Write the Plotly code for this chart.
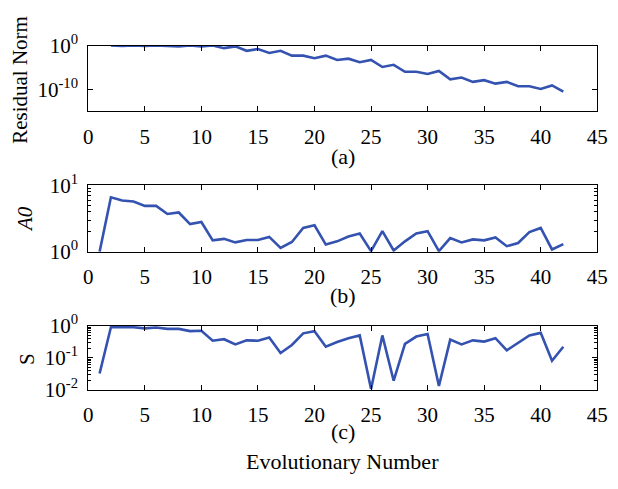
import plotly.graph_objects as go

# ---- data ----
x_res = list(range(2, 43))
log_res = [0, -0.1, 0, -0.1, 0, -0.05, -0.2, 0, -0.2, 0,
           -0.6, -0.2, -1.2, -0.8, -1.7, -1.2, -2.3, -2.3, -2.9, -2.3,
           -3.3, -3.0, -3.8, -3.3, -4.9, -4.4, -6.0, -6.0, -6.5, -5.8,
           -7.7, -7.3, -8.3, -7.9, -8.7, -8.3, -9.3, -9.3, -9.9, -9.1,
           -10.5]
residual = [10 ** v for v in log_res]

x_gen = list(range(1, 43))
a0 = [1.0, 6.6, 5.9, 5.7, 4.9, 4.9, 3.7, 3.9, 2.6, 2.8,
      1.48, 1.56, 1.38, 1.5, 1.5, 1.67, 1.14, 1.4, 2.28, 2.5,
      1.28, 1.43, 1.69, 1.88, 1.02, 2.04, 1.04, 1.43, 1.88, 2.04,
      1.02, 1.6, 1.38, 1.53, 1.48, 1.64, 1.21, 1.35, 1.97, 2.28,
      1.08, 1.3]
s_vals = [0.032, 0.9, 0.9, 0.9, 0.83, 0.88, 0.8, 0.8, 0.68, 0.7,
          0.34, 0.38, 0.26, 0.35, 0.34, 0.43, 0.14, 0.25, 0.58, 0.68,
          0.22, 0.31, 0.41, 0.5, 0.0105, 0.5, 0.019, 0.27, 0.46, 0.55,
          0.013, 0.37, 0.26, 0.35, 0.32, 0.41, 0.17, 0.29, 0.5, 0.6,
          0.08, 0.22]

x_ticks = [0, 5, 10, 15, 20, 25, 30, 35, 40, 45]
res_tickvals = [1, 1e-10]
res_ticktext = ["10<sup>0</sup>", "10<sup>-10</sup>"]
a0_tickvals = [1, 10]
a0_ticktext = ["10<sup>0</sup>", "10<sup>1</sup>"]
s_tickvals = [0.01, 0.1, 1]
s_ticktext = ["10<sup>-2</sup>", "10<sup>-1</sup>", "10<sup>0</sup>"]
minor_b = [2, 3, 4, 5, 6, 7, 8, 9]
minor_c = [0.02, 0.03, 0.04, 0.05, 0.06, 0.07, 0.08, 0.09,
           0.2, 0.3, 0.4, 0.5, 0.6, 0.7, 0.8, 0.9]

LINE = "#3452b0"
FONT = "Liberation Serif"
FS = 21

W, H = 618, 489
xl, xr = 85.5 / W, 608 / W
def ydom(top, bot):
    return [1 - bot / H, 1 - top / H]

fig = go.Figure()
fig.add_trace(go.Scatter(x=x_res, y=residual, mode="lines",
                         line=dict(color=LINE, width=2.6), xaxis="x", yaxis="y"))
fig.add_trace(go.Scatter(x=x_gen, y=a0, mode="lines",
                         line=dict(color=LINE, width=2.6), xaxis="x2", yaxis="y2"))
fig.add_trace(go.Scatter(x=x_gen, y=s_vals, mode="lines",
                         line=dict(color=LINE, width=2.6), xaxis="x3", yaxis="y3"))

xcommon = dict(range=[0, 45], tickmode="array", tickvals=x_ticks,
               ticks="inside", ticklen=5, tickcolor="black", showline=True,
               linecolor="black", linewidth=1.2, mirror="ticks", showgrid=False,
               zeroline=False, tickfont=dict(family=FONT, size=FS, color="black"),
               ticklabeloverflow="allow", ticklabelstandoff=6, domain=[xl, xr])
ycommon = dict(type="log", ticks="inside", ticklen=5, tickcolor="black",
               showline=True, linecolor="black", linewidth=1.2, mirror="ticks",
               showgrid=False, zeroline=False, tickmode="array",
               tickfont=dict(family=FONT, size=FS, color="black"),
               ticklabeloverflow="allow", ticklabelstandoff=5)

fig.update_layout(
    width=W, height=H, margin=dict(l=0, r=0, t=0, b=0),
    font=dict(family=FONT, size=FS, color="black"),
    paper_bgcolor="white", plot_bgcolor="white", showlegend=False,
    xaxis=dict(xcommon, anchor="y"),
    xaxis2=dict(xcommon, anchor="y2"),
    xaxis3=dict(xcommon, anchor="y3"),
    yaxis=dict(ycommon, anchor="x", range=[-15, 0], tickvals=res_tickvals,
               ticktext=res_ticktext, domain=ydom(33.3, 102.7)),
    yaxis2=dict(ycommon, anchor="x2", range=[0, 1], tickvals=a0_tickvals,
                ticktext=a0_ticktext, domain=ydom(181, 251),
                minor=dict(ticks="inside", ticklen=3, tickcolor="black",
                           tickmode="array", tickvals=minor_b)),
    yaxis3=dict(ycommon, anchor="x3", range=[-2, 0], tickvals=s_tickvals,
                ticktext=s_ticktext, domain=ydom(329.3, 396.7),
                minor=dict(ticks="inside", ticklen=3, tickcolor="black",
                           tickmode="array", tickvals=minor_c)),
)

cx = (xl + xr) / 2
def ann(text, x, y, angle=0, size=22):
    fig.add_annotation(text=text, x=x, y=1 - y / H, xref="paper", yref="paper",
                       showarrow=False, textangle=angle,
                       font=dict(family=FONT, size=size, color="black"),
                       xanchor="center", yanchor="middle")

ann("(a)", cx, 150)
ann("(b)", cx, 297)
ann("(c)", cx, 441)
ann("Evolutionary Number", cx, 473)
ann("Residual Norm", 16 / W, 70, angle=-90, size=21)
ann("<i>A0</i>", 20 / W, 216, angle=-90, size=21)
ann("S", 22 / W, 364, angle=-90, size=21)

fig.write_html("out.html", config={"displayModeBar": False},
               post_script="document.body.style.margin='0';document.body.style.overflow='hidden';")
